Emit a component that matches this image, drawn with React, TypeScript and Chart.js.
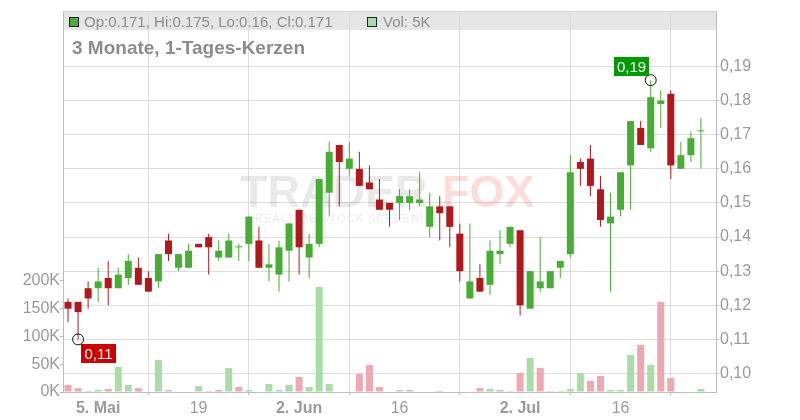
import React, { useEffect, useRef } from "react";
import { Chart, registerables } from "chart.js";

Chart.register(...registerables);

// ---- data ----
const days = [
  "29.04", "30.04", "02.05", "05.05", "06.05", "07.05", "08.05", "09.05", "12.05", "13.05",
  "14.05", "15.05", "16.05", "19.05", "20.05", "21.05", "22.05", "23.05", "26.05", "27.05",
  "28.05", "29.05", "30.05", "02.06", "03.06", "04.06", "05.06", "06.06", "09.06", "10.06",
  "11.06", "12.06", "13.06", "16.06", "17.06", "18.06", "19.06", "20.06", "23.06", "24.06",
  "25.06", "26.06", "27.06", "30.06", "01.07", "02.07", "03.07", "04.07", "07.07", "08.07",
  "09.07", "10.07", "11.07", "14.07", "15.07", "16.07", "17.07", "18.07", "21.07", "22.07",
  "23.07", "24.07", "25.07", "28.07",
];
const opens = [
  0.121, 0.121, 0.125, 0.125, 0.128, 0.125, 0.128, 0.131, 0.128, 0.127,
  0.139, 0.131, 0.131, 0.138, 0.140, 0.134, 0.134, 0.137, 0.138, 0.139,
  0.131, 0.129, 0.136, 0.148, 0.134, 0.138, 0.153, 0.167, 0.160, 0.160,
  0.156, 0.151, 0.150, 0.150, 0.150, 0.150, 0.143, 0.149, 0.149, 0.141,
  0.122, 0.128, 0.126, 0.135, 0.138, 0.142, 0.119, 0.125, 0.125, 0.131,
  0.135, 0.162, 0.163, 0.154, 0.144, 0.148, 0.161, 0.172, 0.166, 0.179,
  0.182, 0.160, 0.164, 0.171,
];
const highs = [
  0.122, 0.121, 0.127, 0.131, 0.133, 0.131, 0.135, 0.134, 0.130, 0.135,
  0.141, 0.135, 0.138, 0.138, 0.141, 0.139, 0.141, 0.138, 0.146, 0.143,
  0.138, 0.139, 0.144, 0.148, 0.141, 0.157, 0.168, 0.167, 0.168, 0.165,
  0.161, 0.157, 0.150, 0.154, 0.154, 0.159, 0.153, 0.152, 0.149, 0.144,
  0.144, 0.132, 0.139, 0.142, 0.143, 0.142, 0.130, 0.140, 0.130, 0.133,
  0.164, 0.163, 0.167, 0.158, 0.153, 0.159, 0.174, 0.174, 0.186, 0.183,
  0.183, 0.168, 0.171, 0.175,
];
const lows = [
  0.115, 0.110, 0.119, 0.121, 0.120, 0.125, 0.126, 0.126, 0.124, 0.125,
  0.133, 0.130, 0.131, 0.137, 0.129, 0.133, 0.134, 0.133, 0.133, 0.131,
  0.127, 0.124, 0.127, 0.129, 0.128, 0.137, 0.146, 0.149, 0.158, 0.155,
  0.154, 0.148, 0.143, 0.145, 0.148, 0.149, 0.140, 0.139, 0.137, 0.127,
  0.122, 0.124, 0.123, 0.132, 0.137, 0.117, 0.119, 0.124, 0.125, 0.128,
  0.134, 0.155, 0.152, 0.143, 0.124, 0.146, 0.148, 0.167, 0.165, 0.172,
  0.157, 0.160, 0.162, 0.160,
];
const closes = [
  0.119, 0.118, 0.122, 0.127, 0.125, 0.129, 0.133, 0.126, 0.124, 0.135,
  0.135, 0.135, 0.136, 0.137, 0.137, 0.136, 0.139, 0.137, 0.146, 0.131,
  0.132, 0.137, 0.144, 0.137, 0.138, 0.157, 0.165, 0.162, 0.163, 0.155,
  0.154, 0.148, 0.148, 0.152, 0.152, 0.151, 0.149, 0.147, 0.143, 0.130,
  0.127, 0.124, 0.136, 0.136, 0.143, 0.120, 0.130, 0.127, 0.130, 0.133,
  0.159, 0.160, 0.155, 0.145, 0.146, 0.159, 0.174, 0.167, 0.181, 0.180,
  0.161, 0.164, 0.169, 0.171,
];
const volumes = [
  12600, 7000, 1800, 3600, 5400, 45000, 12600, 7000, 0, 57700,
  3600, 0, 0, 10800, 1800, 3600, 43000, 9000, 3600, 0,
  14400, 3600, 12600, 27000, 9000, 189000, 14400, 0, 0, 32400,
  48700, 9000, 0, 3600, 3600, 0, 0, 1800, 0, 0,
  0, 7200, 5400, 3600, 1800, 34200, 61300, 43200, 1800, 1800,
  5400, 34200, 19800, 28800, 3600, 3600, 66700, 84700, 48700, 162000,
  25200, 0, 0, 5400,
];
const tickDays = ["05.05", "19.05", "02.06", "16.06", "02.07", "16.07"];
const tickLabels = ["5. Mai", "19", "2. Jun", "16", "2. Jul", "16"];
const priceTicks = [0.10, 0.11, 0.12, 0.13, 0.14, 0.15, 0.16, 0.17, 0.18, 0.19];
const volumeTicks = [0, 50000, 100000, 150000, 200000];
const titleText = "3 Monate, 1-Tages-Kerzen";

// ---- styles ----
const FONT = "'Liberation Sans', Arial, Helvetica, sans-serif";
const UP = "#47ad34";
const DOWN = "#b2181b";
const VOL_UP = "#aadca7";
const VOL_DOWN = "#efa7b0";
const VOL_FLAT = "#c3c3c3";
const TXT = "#9a9a9a";
const GRID = "#dddddd";
const AXIS = "#bdbdbd";

const idx = days.map((_, i) => i);
const candleColor = (i: number) => (closes[i] >= opens[i] ? UP : DOWN);
const volColor = (i: number) => {
  const prev = i > 0 ? closes[i - 1] : opens[i];
  if (closes[i] > prev) return VOL_UP;
  if (closes[i] < prev) return VOL_DOWN;
  return VOL_FLAT;
};
const labelFor = (v: number) => {
  const k = tickDays.indexOf(days[Math.round(v)]);
  return k >= 0 ? tickLabels[k] : "";
};

const overlayPlugin = {
  id: "overlay",
  beforeDraw(chart: any) {
    const { ctx, chartArea: a } = chart;
    ctx.save();
    ctx.fillStyle = "#e6e6e6";
    ctx.fillRect(a.left, a.top, a.right - a.left, 19);
    ctx.fillStyle = "#d2d2d2";
    ctx.fillRect(a.left, a.top, a.right - a.left, 1);
    ctx.restore();
  },
  beforeDatasetsDraw(chart: any) {
    const { ctx } = chart;
    ctx.save();
    ctx.textBaseline = "alphabetic";
    ctx.textAlign = "left";
    ctx.font = `bold 45px ${FONT}`;
    ctx.fillStyle = "rgba(0,0,0,0.085)";
    ctx.fillText("TRADER", 240, 207, 197);
    ctx.fillStyle = "rgba(245,40,40,0.16)";
    ctx.fillText("FOX", 442, 207, 93);
    ctx.font = `11px ${FONT}`;
    try { (ctx as any).letterSpacing = "1px"; } catch (e) {}
    ctx.fillStyle = "rgba(0,0,0,0.09)";
    ctx.fillText("REALTIME STOCK SCREENING", 255, 222);
    ctx.restore();
  },
  afterDraw(chart: any) {
    const { ctx } = chart;
    const xs = chart.scales.x;
    const yp = chart.scales.yPrice;
    const last = days.length - 1;
    ctx.save();
    // legend bar
    ctx.lineWidth = 1;
    ctx.fillStyle = candleColor(last);
    ctx.fillRect(69, 17, 10, 10);
    ctx.strokeStyle = "#222";
    ctx.strokeRect(69.5, 17.5, 9, 9);
    ctx.fillStyle = volColor(last);
    ctx.fillRect(367, 17, 10, 10);
    ctx.strokeRect(367.5, 17.5, 9, 9);
    ctx.font = `15px ${FONT}`;
    ctx.fillStyle = "#8c8c8c";
    ctx.textBaseline = "alphabetic";
    ctx.textAlign = "left";
    ctx.fillText(
      `Op:${opens[last]}, Hi:${highs[last]}, Lo:${lows[last]}, Cl:${closes[last]}`,
      84, 27
    );
    ctx.fillText(`Vol: ${Math.round(volumes[last] / 1000)}K`, 383, 27);
    // title
    ctx.font = `bold 19px ${FONT}`;
    ctx.fillStyle = "#8c8c8c";
    ctx.fillText(titleText, 72, 54);

    // high / low markers
    let hi = 0, lo = 0;
    idx.forEach((i) => {
      if (highs[i] > highs[hi]) hi = i;
      if (lows[i] < lows[lo]) lo = i;
    });
    const drawMarker = (i: number, v: number, color: string, above: boolean) => {
      const px = xs.getPixelForValue(i);
      const py = yp.getPixelForValue(v);
      ctx.beginPath();
      ctx.arc(px, py, 5.5, 0, Math.PI * 2);
      ctx.strokeStyle = "#111";
      ctx.lineWidth = 1;
      ctx.stroke();
      const w = 35, h = 19;
      const bx = above ? Math.round(px - 2 - w) : Math.round(px + 3);
      const by = above ? Math.round(py - 4 - h) : Math.round(py + 5);
      ctx.fillStyle = color;
      ctx.fillRect(bx, by, w, h);
      ctx.fillStyle = "#ffffff";
      ctx.font = `15px ${FONT}`;
      ctx.textAlign = "center";
      ctx.textBaseline = "middle";
      ctx.fillText(v.toFixed(2).replace(".", ","), bx + w / 2, by + h / 2 + 1);
    };
    drawMarker(hi, highs[hi], "#009a00", true);
    drawMarker(lo, lows[lo], "#cc0000", false);
    ctx.restore();
  },
};

export default function App() {
  const ref = useRef<HTMLCanvasElement>(null);
  useEffect(() => {
    if (!ref.current) return;
    const bodies = idx.map((i) => ({ x: i, y: [opens[i], closes[i]] }));
    const wicks = idx.map((i) => ({ x: i, y: [lows[i], highs[i]] }));
    const vols = idx.map((i) => ({ x: i, y: volumes[i] }));
    const chart = new Chart(ref.current, {
      type: "bar",
      data: {
        datasets: [
          {
            label: "body",
            data: bodies as any,
            backgroundColor: idx.map(candleColor),
            yAxisID: "yPrice",
            grouped: false,
            maxBarThickness: 7,
            minBarLength: 1,
            borderWidth: 0,
            inflateAmount: 0,
            order: 1,
          } as any,
          {
            label: "wick",
            data: wicks as any,
            backgroundColor: idx.map(candleColor),
            yAxisID: "yPrice",
            grouped: false,
            maxBarThickness: 1,
            borderWidth: 0,
            inflateAmount: 0,
            order: 2,
          } as any,
          {
            label: "volume",
            data: vols as any,
            backgroundColor: idx.map(volColor),
            yAxisID: "yVol",
            grouped: false,
            maxBarThickness: 7,
            borderWidth: 0,
            inflateAmount: 0,
            order: 3,
          } as any,
        ],
      },
      options: {
        responsive: false,
        animation: false,
        events: [],
        layout: { padding: { top: 11, left: 0, right: 0, bottom: 0 } },
        plugins: { legend: { display: false }, tooltip: { enabled: false } },
        scales: {
          x: {
            type: "linear",
            min: -0.5,
            max: 64.5,
            offset: false,
            afterBuildTicks: (s: any) => {
              s.ticks = tickDays.map((d) => ({ value: days.indexOf(d) }));
            },
            afterFit: (s: any) => {
              s.height = 28;
            },
            ticks: {
              autoSkip: false,
              maxRotation: 0,
              padding: 4,
              color: TXT,
              callback: (v: any) => labelFor(Number(v)),
              font: (c: any) => ({
                family: FONT,
                size: 16,
                weight: labelFor(c.tick ? c.tick.value : 0).includes(".") ? "bold" : "normal",
              }),
            },
            grid: { color: GRID, tickLength: 3, tickColor: AXIS },
            border: { color: AXIS },
          },
          yPrice: {
            type: "linear",
            position: "right",
            min: 0.09458,
            max: 0.20627,
            afterBuildTicks: (s: any) => {
              s.ticks = priceTicks.map((v) => ({ value: v }));
            },
            afterFit: (s: any) => {
              s.width = 84;
            },
            ticks: {
              padding: 1,
              color: TXT,
              font: { family: FONT, size: 16 },
              callback: (v: any) => Number(v).toFixed(2).replace(".", ","),
            },
            grid: { color: GRID, tickLength: 3, tickColor: AXIS },
            border: { color: AXIS },
          },
          yVol: {
            type: "linear",
            position: "left",
            min: 0,
            max: 685000,
            afterBuildTicks: (s: any) => {
              s.ticks = volumeTicks.map((v) => ({ value: v }));
            },
            afterFit: (s: any) => {
              s.width = 63;
            },
            ticks: {
              padding: 0,
              color: TXT,
              font: { family: FONT, size: 16 },
              callback: (v: any) => `${Number(v) / 1000}K`,
            },
            grid: { drawOnChartArea: false, tickLength: 3, color: AXIS },
            border: { color: AXIS },
          },
        },
      } as any,
      plugins: [overlayPlugin],
    });
    return () => chart.destroy();
  }, []);
  return (
    <div style={{ position: "fixed", left: 0, top: 0, width: 800, height: 420, background: "#fff" }}>
      <canvas ref={ref} width={800} height={420} style={{ display: "block" }} />
    </div>
  );
}
